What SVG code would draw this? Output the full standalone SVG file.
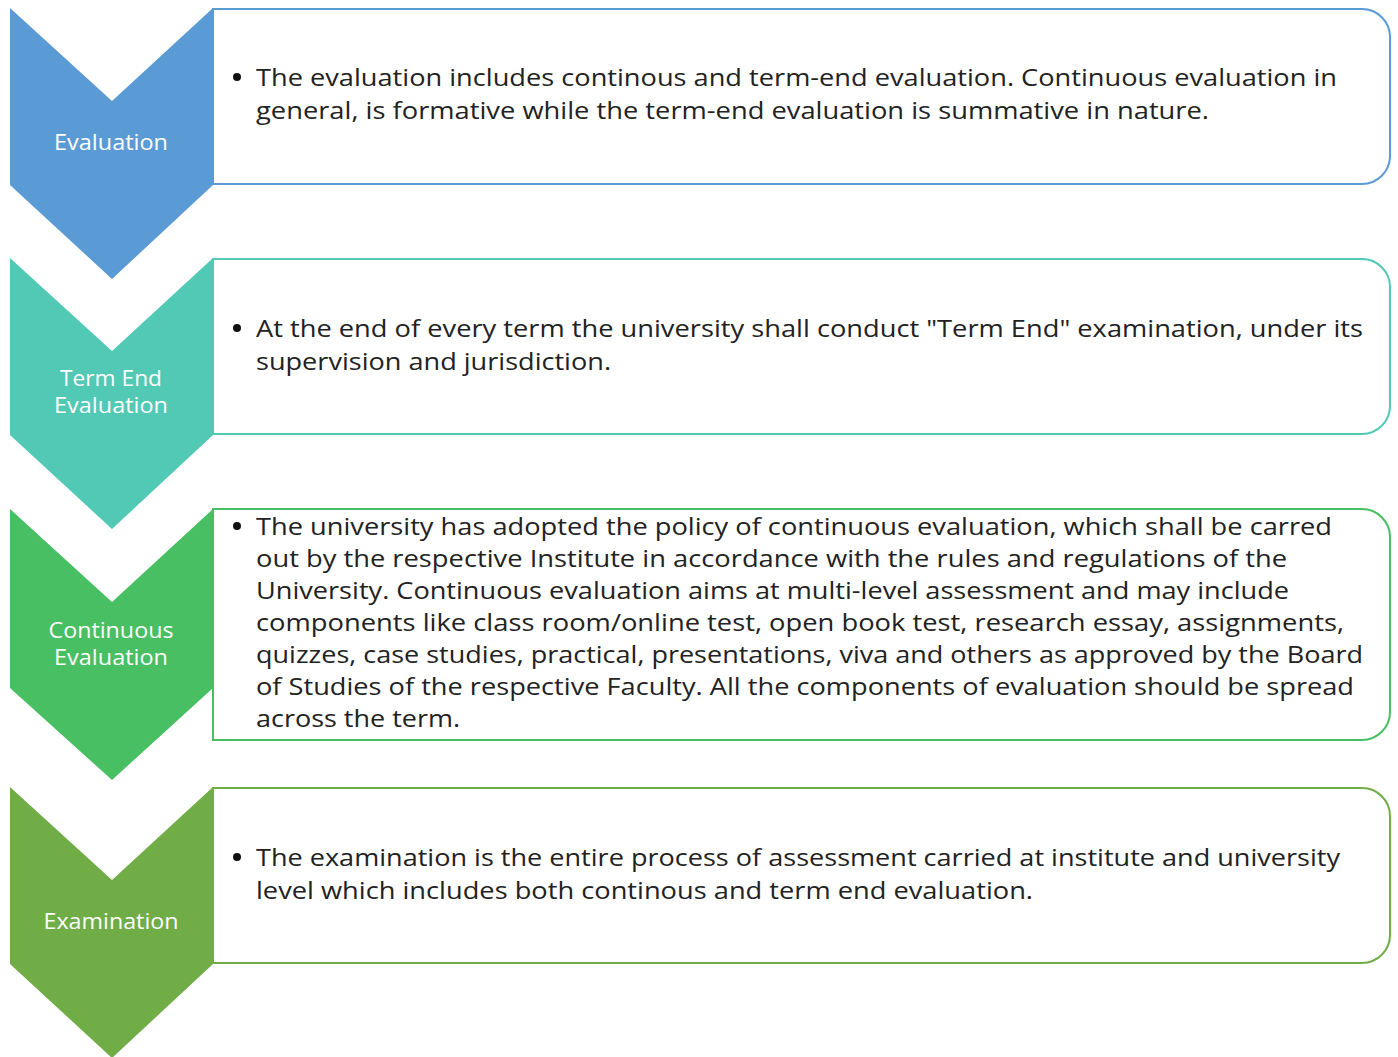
<svg xmlns="http://www.w3.org/2000/svg" width="1398" height="1057" viewBox="0 0 1398 1057">
<style>
.box{fill:#fff;stroke-width:2}
.lbl{font-family:"Open Sans","Liberation Sans",sans-serif;font-size:21px;fill:#fff;text-anchor:middle}
.txt{font-family:"Open Sans","Liberation Sans",sans-serif;font-size:23px;fill:#222}
.dot{fill:#111}
</style>
<rect width="1398" height="1057" fill="#fff"/>
<g id="connectors"/>
<g id="node-evaluation">
<path class="box" stroke="#5B9BD5" d="M213,9H1362A28,28 0 0 1 1390,37V156A28,28 0 0 1 1362,184H213Z"/>
<polygon fill="#5B9BD5" points="10,8 112,101 213,8 213,185 112,279 10,185"/>
<text class="lbl" x="111" y="150" textLength="114" lengthAdjust="spacingAndGlyphs">Evaluation</text>
<circle class="dot" cx="237" cy="77" r="4"/>
<text class="txt" x="256" y="86" textLength="1081" lengthAdjust="spacingAndGlyphs">The evaluation includes continous and term-end evaluation. Continuous evaluation in</text>
<text class="txt" x="256" y="119" textLength="953" lengthAdjust="spacingAndGlyphs">general, is formative while the term-end evaluation is summative in nature.</text>
</g>
<g id="node-term-end">
<path class="box" stroke="#52C9B5" d="M213,259H1362A28,28 0 0 1 1390,287V406A28,28 0 0 1 1362,434H213Z"/>
<polygon fill="#52C9B5" points="10,258 112,351 213,258 213,435 112,529 10,435"/>
<text class="lbl" x="111" y="386" textLength="102" lengthAdjust="spacingAndGlyphs">Term End</text>
<text class="lbl" x="111" y="413" textLength="114" lengthAdjust="spacingAndGlyphs">Evaluation</text>
<circle class="dot" cx="237" cy="328" r="4"/>
<text class="txt" x="256" y="337" textLength="1107" lengthAdjust="spacingAndGlyphs">At the end of every term the university shall conduct "Term End" examination, under its</text>
<text class="txt" x="256" y="370" textLength="355" lengthAdjust="spacingAndGlyphs">supervision and jurisdiction.</text>
</g>
<g id="node-continuous">
<path class="box" stroke="#47BF62" d="M213,509H1362A28,28 0 0 1 1390,537V712A28,28 0 0 1 1362,740H213Z"/>
<polygon fill="#47BF62" points="10,509 112,602 213,509 213,688 112,780 10,688"/>
<text class="lbl" x="111" y="638" textLength="125" lengthAdjust="spacingAndGlyphs">Continuous</text>
<text class="lbl" x="111" y="665" textLength="114" lengthAdjust="spacingAndGlyphs">Evaluation</text>
<circle class="dot" cx="237" cy="526" r="4"/>
<text class="txt" x="256" y="535" textLength="1076" lengthAdjust="spacingAndGlyphs">The university has adopted the policy of continuous evaluation, which shall be carred</text>
<text class="txt" x="256" y="567" textLength="1031" lengthAdjust="spacingAndGlyphs">out by the respective Institute in accordance with the rules and regulations of the</text>
<text class="txt" x="256" y="599" textLength="1033" lengthAdjust="spacingAndGlyphs">University. Continuous evaluation aims at multi-level assessment and may include</text>
<text class="txt" x="256" y="631" textLength="1088" lengthAdjust="spacingAndGlyphs">components like class room/online test, open book test, research essay, assignments,</text>
<text class="txt" x="256" y="663" textLength="1107" lengthAdjust="spacingAndGlyphs">quizzes, case studies, practical, presentations, viva and others as approved by the Board</text>
<text class="txt" x="256" y="695" textLength="1098" lengthAdjust="spacingAndGlyphs">of Studies of the respective Faculty. All the components of evaluation should be spread</text>
<text class="txt" x="256" y="727" textLength="204" lengthAdjust="spacingAndGlyphs">across the term.</text>
</g>
<g id="node-examination">
<path class="box" stroke="#70AD47" d="M213,788H1362A28,28 0 0 1 1390,816V935A28,28 0 0 1 1362,963H213Z"/>
<polygon fill="#70AD47" points="10,787 112,880 213,787 213,964 112,1058 10,964"/>
<text class="lbl" x="111" y="929" textLength="135" lengthAdjust="spacingAndGlyphs">Examination</text>
<circle class="dot" cx="237" cy="857" r="4"/>
<text class="txt" x="256" y="866" textLength="1084" lengthAdjust="spacingAndGlyphs">The examination is the entire process of assessment carried at institute and university</text>
<text class="txt" x="256" y="899" textLength="777" lengthAdjust="spacingAndGlyphs">level which includes both continous and term end evaluation.</text>
</g>
</svg>
